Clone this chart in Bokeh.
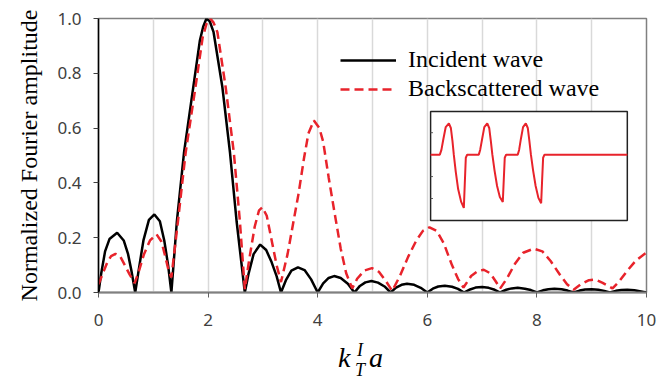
from bokeh.plotting import figure
from bokeh.models import FixedTicker, PrintfTickFormatter, Range1d, Legend, LegendItem, Div
from bokeh.layouts import column
from bokeh.embed import file_html
from bokeh.resources import INLINE

# ---------------- data ----------------
# Incident wave spectrum
inc_k = [0.0, 0.05, 0.12, 0.2, 0.34, 0.46, 0.54, 0.6, 0.67,
         0.74, 0.82, 0.92, 1.02, 1.12, 1.2, 1.27, 1.33,
         1.43, 1.56, 1.73, 1.85, 1.91, 1.97, 2.03, 2.1, 2.26, 2.4, 2.52, 2.67,
         2.74, 2.83, 2.95, 3.06, 3.16, 3.25, 3.33,
         3.42, 3.52, 3.64, 3.76, 3.88, 4.0,
         4.1, 4.2, 4.3, 4.42, 4.55, 4.67,
         4.77, 4.87, 4.98, 5.1, 5.22, 5.33,
         5.43, 5.53, 5.63, 5.76, 5.88, 6.0,
         6.1, 6.2, 6.32, 6.45, 6.56, 6.67,
         6.78, 6.88, 7.0, 7.12, 7.23, 7.33,
         7.44, 7.54, 7.65, 7.78, 7.89, 8.0,
         8.11, 8.21, 8.32, 8.45, 8.56, 8.67,
         8.78, 8.88, 9.0, 9.12, 9.23, 9.33,
         9.44, 9.54, 9.65, 9.78, 9.9, 10.0]
inc_amp = [0.0, 0.07, 0.15, 0.195, 0.218, 0.19, 0.14, 0.08, 0.0,
           0.09, 0.19, 0.265, 0.285, 0.26, 0.19, 0.1, 0.0,
           0.26, 0.51, 0.75, 0.92, 0.97, 1.0, 0.99, 0.95, 0.75, 0.51, 0.26, 0.0,
           0.07, 0.14, 0.175, 0.155, 0.11, 0.06, 0.0,
           0.045, 0.08, 0.092, 0.082, 0.048, 0.0,
           0.033, 0.053, 0.06, 0.053, 0.032, 0.0,
           0.024, 0.037, 0.042, 0.036, 0.022, 0.0,
           0.018, 0.028, 0.032, 0.028, 0.017, 0.0,
           0.014, 0.022, 0.025, 0.021, 0.013, 0.0,
           0.011, 0.018, 0.02, 0.017, 0.01, 0.0,
           0.01, 0.015, 0.017, 0.014, 0.009, 0.0,
           0.008, 0.012, 0.014, 0.012, 0.007, 0.0,
           0.007, 0.011, 0.012, 0.01, 0.006, 0.0,
           0.006, 0.009, 0.01, 0.008, 0.004, 0.0]

# Backscattered wave spectrum
bs_k = [0.0, 0.08, 0.16, 0.23, 0.31, 0.4, 0.48, 0.57, 0.66,
        0.74, 0.83, 0.94, 1.06, 1.15, 1.22, 1.28, 1.33,
        1.45, 1.59, 1.77, 1.9, 1.97, 2.04, 2.1, 2.17, 2.32, 2.47, 2.58, 2.67,
        2.75, 2.85, 2.93, 2.99, 3.07, 3.17, 3.25, 3.33,
        3.45, 3.55, 3.65, 3.75, 3.83, 3.93, 4.03, 4.1, 4.2, 4.3, 4.42, 4.52, 4.63,
        4.72, 4.85, 4.99, 5.12, 5.25, 5.36,
        5.5, 5.65, 5.8, 5.92, 6.04, 6.17, 6.3, 6.45, 6.56, 6.66,
        6.8, 6.92, 7.03, 7.15, 7.25, 7.33,
        7.45, 7.6, 7.75, 7.94, 8.1, 8.25, 8.42, 8.55, 8.67,
        8.8, 8.95, 9.07, 9.2, 9.38,
        9.5, 9.65, 9.8, 10.0]
bs_amp = [0.03, 0.07, 0.11, 0.133, 0.141, 0.13, 0.1, 0.065, 0.034,
          0.08, 0.14, 0.19, 0.212, 0.185, 0.13, 0.08, 0.055,
          0.26, 0.51, 0.75, 0.93, 0.98, 1.0, 0.985, 0.95, 0.75, 0.51, 0.26, 0.012,
          0.12, 0.24, 0.3, 0.311, 0.28, 0.18, 0.1, 0.038,
          0.14, 0.25, 0.36, 0.49, 0.58, 0.628, 0.6, 0.55, 0.42, 0.3, 0.16, 0.07, 0.015,
          0.05, 0.08, 0.089, 0.075, 0.04, 0.006,
          0.06, 0.13, 0.19, 0.225, 0.238, 0.225, 0.18, 0.1, 0.05, 0.018,
          0.06, 0.078, 0.083, 0.07, 0.04, 0.015,
          0.05, 0.105, 0.145, 0.16, 0.15, 0.115, 0.065, 0.03, 0.01,
          0.03, 0.045, 0.047, 0.035, 0.015,
          0.04, 0.08, 0.115, 0.146]

# Inset: time-domain backscattered signal (normalized time, amplitude)
sig_t = [0.0, 0.047, 0.055, 0.065, 0.077, 0.093, 0.103, 0.111, 0.118, 0.128, 0.14, 0.155, 0.169, 0.174, 0.179, 0.186,
         0.245, 0.252, 0.262, 0.273, 0.288, 0.298, 0.306, 0.314, 0.325, 0.338, 0.352, 0.367, 0.372, 0.377, 0.384,
         0.443, 0.45, 0.459, 0.47, 0.484, 0.494, 0.502, 0.51, 0.521, 0.534, 0.548, 0.562, 0.567, 0.572, 0.579, 1.0]
sig_amp = [0.0, 0.0, 0.15, 0.5, 0.88, 1.0, 0.85, 0.45, 0.0, -0.55, -1.1, -1.5, -1.7, -0.9, -0.1, 0.0,
           0.0, 0.15, 0.5, 0.88, 1.0, 0.85, 0.45, 0.0, -0.5, -1.0, -1.35, -1.51, -0.8, -0.1, 0.0,
           0.0, 0.15, 0.5, 0.88, 1.0, 0.85, 0.45, 0.0, -0.5, -1.0, -1.38, -1.55, -0.8, -0.1, 0.0, 0.0]
inset_t_lim = [0.0, 1.0]
inset_amp_lim = [-2.1, 1.38]
inset_ticks = [0.7, -0.7, -1.4]

x_ticks = [0, 2, 4, 6, 8, 10]
y_ticks = [0.0, 0.2, 0.4, 0.6, 0.8, 1.0]
grid_ticks = [0, 1, 2, 3, 4, 5, 6, 7, 8, 9, 10]

RED = "#e8232b"
SERIF = "Liberation Serif"
SANS = "Noto Sans"

# ---------------- figure ----------------
p = figure(width=657, height=340, x_range=Range1d(0, 10), y_range=Range1d(0, 1),
           output_backend="svg", toolbar_location=None,
           min_border_left=98, min_border_right=11, min_border_top=18, min_border_bottom=48)
p.background_fill_color = "white"
p.border_fill_color = "white"
p.outline_line_color = "#808080"
p.outline_line_width = 1.5

p.xaxis.ticker = FixedTicker(ticks=x_ticks)
p.yaxis.ticker = FixedTicker(ticks=y_ticks)
p.yaxis.formatter = PrintfTickFormatter(format="%.1f")
for ax in (p.xaxis, p.yaxis):
    ax.major_label_text_font = SANS
    ax.major_label_text_font_size = "17px"
    ax.major_label_text_color = "#404040"
    ax.major_tick_in = 0
    ax.major_tick_out = 5
    ax.minor_tick_in = 0
    ax.minor_tick_out = 0
p.xaxis.axis_line_color = "#808080"
p.xaxis.axis_line_width = 2
p.xaxis.major_tick_line_color = "#606060"
p.xaxis.major_label_standoff = 16
p.yaxis.axis_line_color = "black"
p.yaxis.axis_line_width = 1.5
p.yaxis.major_tick_line_color = "#404040"
p.yaxis.major_label_standoff = 12
p.yaxis.axis_label = "Normalized Fourier amplitude"
p.yaxis.axis_label_text_font = SERIF
p.yaxis.axis_label_text_font_size = "24px"
p.yaxis.axis_label_text_font_style = "normal"
p.yaxis.axis_label_text_color = "black"
p.yaxis.axis_label_standoff = 12

p.xgrid.ticker = FixedTicker(ticks=grid_ticks)
p.xgrid.grid_line_color = "#d9d9d9"
p.xgrid.grid_line_width = 1.5
p.ygrid.visible = False

r_inc = p.line(inc_k, inc_amp, line_color="black", line_width=2.5)
r_bs = p.line(bs_k, bs_amp, line_color=RED, line_width=2.5, line_dash="9 5")

# ---------------- inset (own ranges mapped onto a sub-rectangle of the frame) ----------------
fl, fr, fb, ft = 0.606, 0.965, 0.263, 0.661  # inset box as fractions of the frame
tw = inset_t_lim[1] - inset_t_lim[0]
aw = inset_amp_lim[1] - inset_amp_lim[0]
xs = inset_t_lim[0] - fl * tw / (fr - fl)
ys = inset_amp_lim[0] - fb * aw / (ft - fb)
p.extra_x_ranges = {"ix": Range1d(xs, xs + tw / (fr - fl))}
p.extra_y_ranges = {"iy": Range1d(ys, ys + aw / (ft - fb))}

p.quad(left=inset_t_lim[0], right=inset_t_lim[1], bottom=inset_amp_lim[0], top=inset_amp_lim[1],
       x_range_name="ix", y_range_name="iy",
       fill_color="white", line_color="#222222", line_width=1.5)
p.segment(x0=[inset_t_lim[0]] * len(inset_ticks), y0=inset_ticks,
          x1=[inset_t_lim[0] + 0.012] * len(inset_ticks), y1=inset_ticks,
          x_range_name="ix", y_range_name="iy", line_color="#555555", line_width=1)
p.line(sig_t, sig_amp, x_range_name="ix", y_range_name="iy", line_color=RED, line_width=2)

# ---------------- legend ----------------
legend = Legend(items=[LegendItem(label="Incident wave", renderers=[r_inc]),
                       LegendItem(label="Backscattered wave", renderers=[r_bs])],
                location=(242, 190))
legend.background_fill_alpha = 0
legend.border_line_alpha = 0
legend.label_text_font = SERIF
legend.label_text_font_size = "24px"
legend.label_text_color = "black"
legend.glyph_width = 56
legend.label_standoff = 12
legend.padding = 0
legend.margin = 0
legend.spacing = 2
p.add_layout(legend)

# ---------------- x-axis label k_T^I a (HTML text below the plot) ----------------
base = "position:absolute; font-family:'Liberation Serif'; font-style:italic; white-space:nowrap; margin:0;"
xlabel_html = (
    '<div style="position:relative; width:657px; height:43px;">'
    f'<span style="{base} left:338px; top:4px; font-size:28px; line-height:28px;">k</span>'
    f'<span style="{base} left:357px; top:1px; font-size:18px; line-height:18px;">I</span>'
    f'<span style="{base} left:355px; top:21px; font-size:18px; line-height:18px;">T</span>'
    f'<span style="{base} left:369px; top:4px; font-size:28px; line-height:28px;">a</span>'
    '</div>'
)
xlabel = Div(text=xlabel_html, width=657, height=43, margin=(0, 0, 0, 0))

layout = column(p, xlabel, spacing=0)
open("out.html", "w").write(file_html(layout, INLINE))
